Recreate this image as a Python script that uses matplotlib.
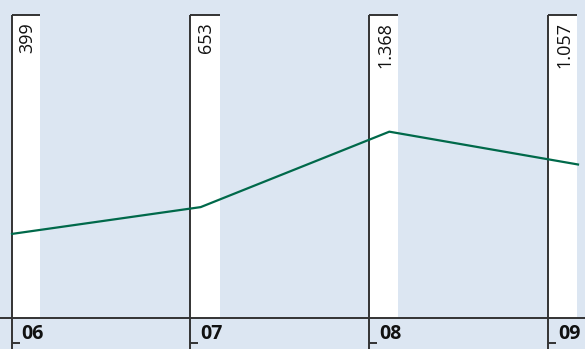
import matplotlib
matplotlib.use("Agg")
import matplotlib.pyplot as plt
from matplotlib.transforms import blended_transform_factory

# Data
years = ["06", "07", "08", "09"]
values = [399, 653, 1368, 1057]
value_labels = ["399", "653", "1.368", "1.057"]

BG = "#dce6f2"
GREEN = "#00694a"
DARK = "#333333"

W, H = 585, 349
fig = plt.figure(figsize=(W / 100, H / 100), dpi=100)
fig.patch.set_facecolor(BG)

# Axes holding the columns (white bands, rules, labels)
axb = fig.add_axes([0, 0, 1, 1])
axb.set_facecolor(BG)
axb.set_xlim(-11.5 / 179, -11.5 / 179 + W / 179)
axb.set_ylim(0, 1)
axb.axis("off")

band_w = 29 / 179
top = 1 - 15 / H
base = 1 - 318 / H
trans = blended_transform_factory(axb.transData, axb.transAxes)

for i, (yr, lab) in enumerate(zip(years, value_labels)):
    axb.axvspan(i, i + band_w, ymin=base, ymax=top, color="white", lw=0, zorder=1)
    axb.plot([i, i], [0, top], color=DARK, lw=1.4, transform=trans, zorder=3,
             solid_capstyle="butt")
    axb.plot([i, i + band_w], [top, top], color=DARK, lw=1.4, transform=trans,
             zorder=3, solid_capstyle="butt")
    axb.text(i + band_w * 0.55, 1 - 22 / H, lab, rotation=90, ha="center", va="top",
             fontsize=13, family="Open Sans", color="#111111", transform=trans, zorder=4)
    # year label with a short foot tick
    axb.plot([i, i + 8 / 179], [1 - 343 / H, 1 - 343 / H], color=DARK, lw=1.4,
             transform=trans, zorder=3, solid_capstyle="butt")
    axb.text(i + 10 / 179, 1 - 334 / H, yr, ha="left", va="center", fontsize=14,
             fontweight="bold", family="Open Sans", color="#111111",
             transform=trans, zorder=4)

axb.axhline(base, color=DARK, lw=1.4, zorder=3)

# Axes holding the data line
axl = fig.add_axes([0, 0, 1, 1])
axl.patch.set_alpha(0)
span = 3 * W / 566
x0 = -12 / W * span
axl.set_xlim(x0, x0 + span)
axl.set_ylim((276 - H) / 0.1055, 276 / 0.1055)
axl.axis("off")
axl.plot(range(len(values)), values, color=GREEN, lw=1.6, zorder=5)

fig.savefig("out.png", dpi=100, facecolor=BG)
